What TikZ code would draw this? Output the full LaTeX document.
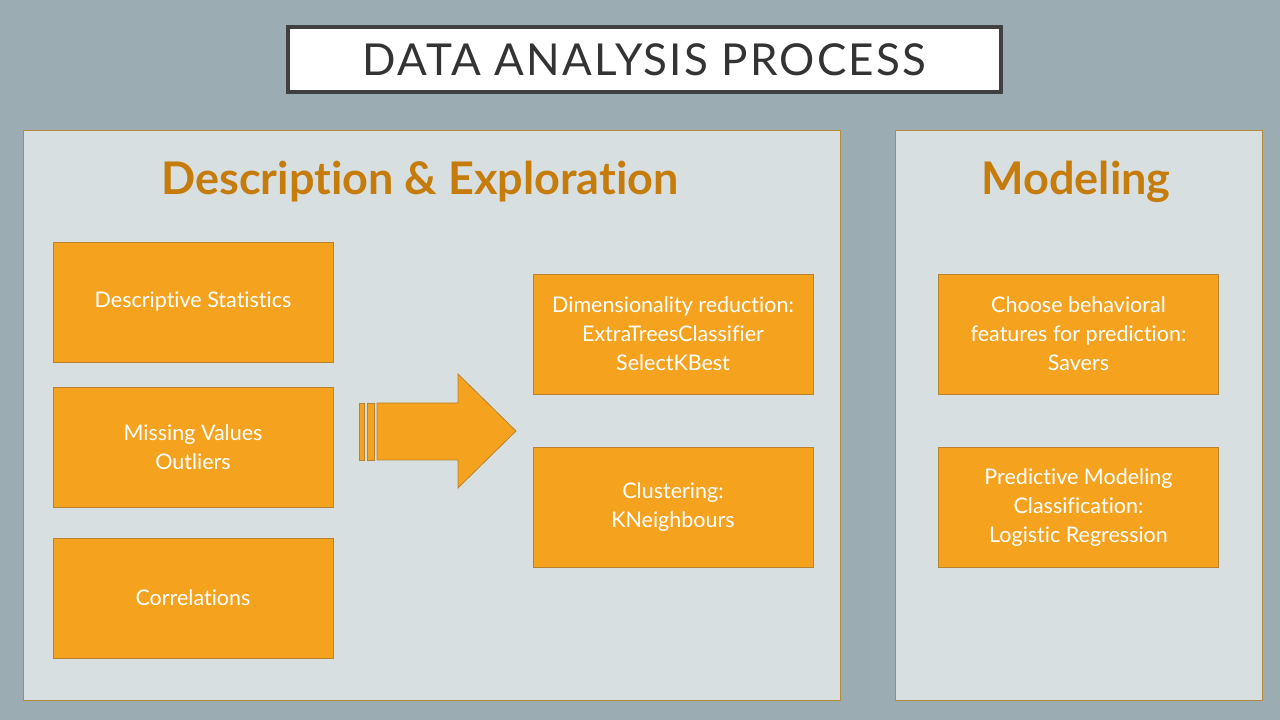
\documentclass[tikz,border=0pt]{standalone}
\usepackage{fontspec}
\setmainfont{Lato}[Ligatures={NoCommon}]
\newfontfamily\titlefont[LetterSpace=5,Ligatures={NoCommon}]{Lato}
\usepackage{tikz}
\usetikzlibrary{positioning}

\definecolor{slidebg}{HTML}{9BADB3}
\definecolor{panelbg}{HTML}{D7DFE1}
\definecolor{panelline}{HTML}{B58A3C}
\definecolor{stepfill}{HTML}{F5A31F}
\definecolor{stepline}{HTML}{B8822E}
\definecolor{headcol}{HTML}{C57C0B}
\definecolor{titleline}{HTML}{404040}

\begin{document}
\begin{tikzpicture}[
      x=1pt, y=1pt,
      panel/.style={
        draw=panelline,
        fill=panelbg,
        line width=1pt
      },
      stepbox/.style={
        draw=stepline,
        fill=stepfill,
        line width=0.8pt,
        minimum width=280pt,
        minimum height=120pt,
        inner sep=0pt,
        align=center,
        text=white,
        font=\fontsize{21.5}{29}\selectfont
      },
      heading/.style={
        text=headcol,
        font=\fontsize{45}{52}\selectfont\bfseries
      }
    ]
    %% Background
    \fill[slidebg] (0,0) rectangle (1280,720);
    \useasboundingbox (0,0) rectangle (1280,720);

    %% Title
    \node[draw=titleline, fill=white, line width=4pt,
          minimum width=713pt, minimum height=65pt,
          font=\fontsize{44}{50}\selectfont\titlefont, text=black!80]
      (title) at (644.5,660.5) {DATA ANALYSIS PROCESS};

    %% Panels
    \draw[panel] (23,589) rectangle (840,19);
    \draw[panel] (895,589) rectangle (1262,19);
    \node[heading] (explore) at (420,538) {Description \& Exploration};
    \node[heading] (modeling) at (1076,538) {Modeling};

    %% Steps, first column
    \node[stepbox] (desc) at (193,418) {Descriptive Statistics};
    \node[stepbox] (missing) at (193,273) {Missing Values\\Outliers};
    \node[stepbox] (corr) at (193,122) {Correlations};

    %% Steps, second column
    \node[stepbox] (dimred) at (673,386)
      {Dimensionality reduction:\\ExtraTreesClassifier\\SelectKBest};
    \node[stepbox] (cluster) at (673,212.5) {Clustering:\\KNeighbours};

    %% Steps, modeling
    \node[stepbox] (choose) at (1078.5,386)
      {Choose behavioral\\features for prediction:\\Savers};
    \node[stepbox] (predict) at (1078.5,212.5)
      {Predictive Modeling\\Classification:\\Logistic Regression};

    %% Striped arrow
    \begin{scope}[draw=stepline, fill=stepfill, line width=0.8pt]
      \filldraw (359,317) rectangle (364,260);
      \filldraw (367,317) rectangle (374,260);
      \filldraw (377,317) -- (458,317) -- (458,346) -- (516,289)
        -- (458,232) -- (458,260) -- (377,260) -- cycle;
    \end{scope}
  \end{tikzpicture}
\end{document}
